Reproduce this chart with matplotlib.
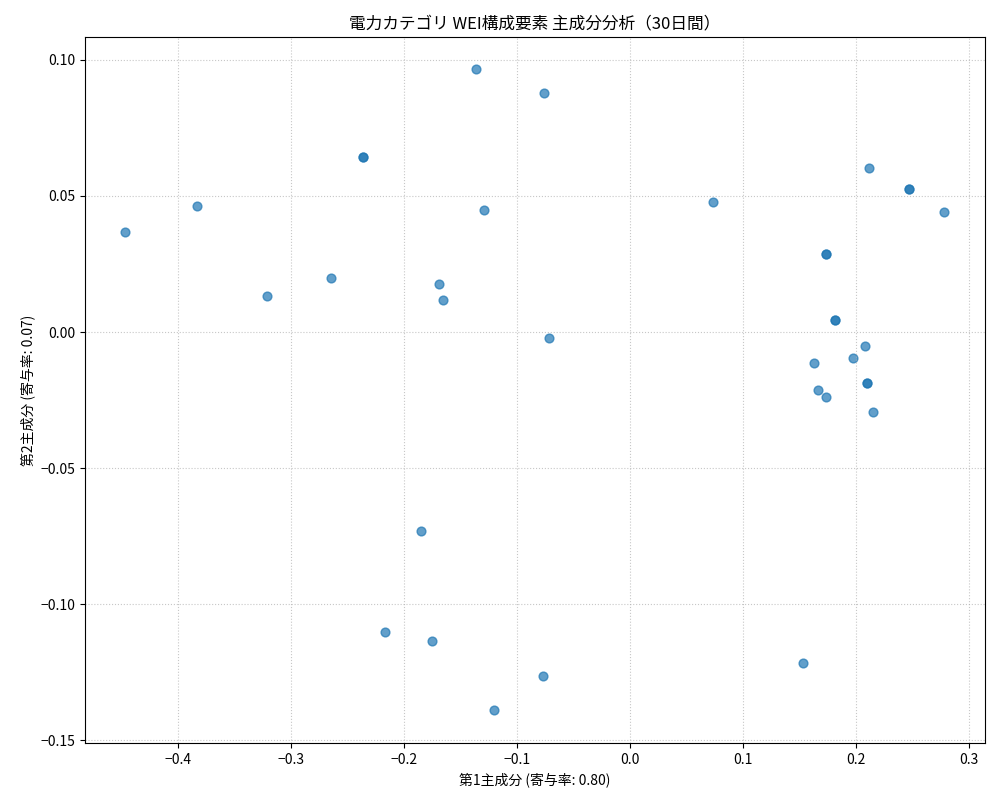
import matplotlib
matplotlib.use("Agg")
import matplotlib.pyplot as plt

plt.rcParams['font.family'] = ['Noto Sans CJK JP', 'DejaVu Sans']
plt.rcParams['axes.unicode_minus'] = True

pc1 = [-0.136, -0.076, -0.236, -0.236, 0.211, 0.247, 0.247, 0.278, -0.383, -0.129,
       0.073, -0.447, 0.173, 0.173, -0.264, -0.169, -0.165, -0.321, 0.181, 0.181,
       -0.072, 0.208, 0.197, 0.163, 0.210, 0.210, 0.166, 0.173, 0.215, -0.185,
       -0.217, -0.175, 0.153, -0.077, -0.120]
pc2 = [0.0967, 0.088, 0.0643, 0.0643, 0.0603, 0.0526, 0.0526, 0.0441, 0.0463, 0.0449,
       0.0478, 0.0368, 0.0287, 0.0287, 0.0199, 0.0176, 0.0118, 0.0132, 0.0044, 0.0044,
       -0.0022, -0.0051, -0.0096, -0.0114, -0.0188, -0.0188, -0.0213, -0.0239, -0.0294, -0.0732,
       -0.1103, -0.1136, -0.1217, -0.1265, -0.1390]

fig = plt.figure(figsize=(10, 8), dpi=100)
ax = fig.add_axes([0.085, 0.071, 0.9, 0.883])
ax.scatter(pc1, pc2, alpha=0.7, s=40, color='tab:blue')
ax.set_xlim(-0.482, 0.314)
ax.set_ylim(-0.1511, 0.1085)
ax.grid(True, linestyle=':', alpha=0.7)
ax.set_title('電力カテゴリ WEI構成要素 主成分分析（30日間）', fontsize=12)
ax.set_xlabel('第1主成分 (寄与率: 0.80)')
ax.set_ylabel('第2主成分 (寄与率: 0.07)')
fig.savefig('out.png')
